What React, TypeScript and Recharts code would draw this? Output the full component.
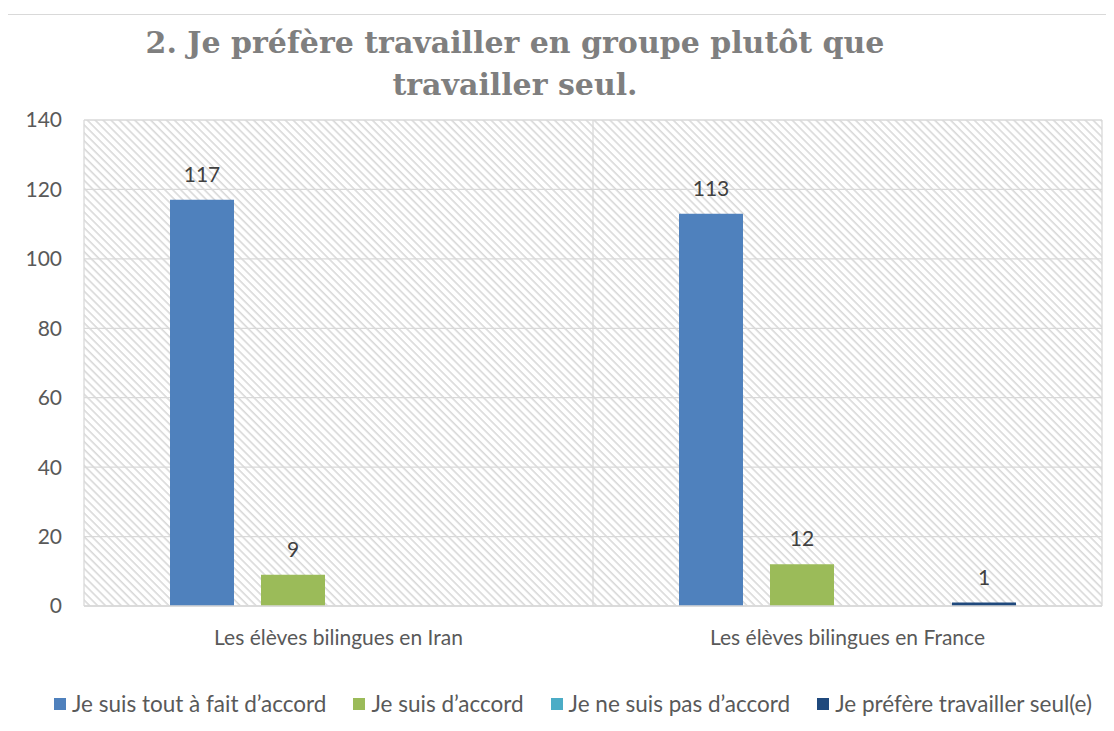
import React from "react";
import {
  BarChart,
  Bar,
  XAxis,
  YAxis,
  CartesianGrid,
  Legend,
  LabelList,
} from "recharts";

const categories = [
  "Les élèves bilingues en Iran",
  "Les élèves bilingues en France",
];
const seriesNames = [
  "Je suis tout à fait d’accord",
  "Je suis d’accord",
  "Je ne suis pas d’accord",
  "Je préfère travailler seul(e)",
];
const toutAFait = [117, 113];
const daccord = [9, 12];
const pasDaccord = [0, 0];
const seul = [0, 1];
const yTicks = [0, 20, 40, 60, 80, 100, 120, 140];
const colors = ["#4F81BD", "#9BBB59", "#4BACC6", "#1F497D"];
const seriesValues = [toutAFait, daccord, pasDaccord, seul];
const keys = ["s0", "s1", "s2", "s3"];

const data = categories.map((c, i) => {
  const row: any = { name: c };
  keys.forEach((k, j) => {
    row[k] = seriesValues[j][i];
  });
  return row;
});

const FONT = "Lato, 'Noto Sans', sans-serif";
const TXT = "#595959";

const renderLegend = () => {
  return (
    <div
      style={{
        display: "flex",
        justifyContent: "center",
        alignItems: "center",
        fontFamily: FONT,
        fontSize: 22.5,
        color: TXT,
        whiteSpace: "nowrap",
        paddingLeft: 44,
      }}
    >
      {seriesNames.map((n, i) => (
        <div
          key={i}
          style={{ display: "flex", alignItems: "center", marginRight: i < seriesNames.length - 1 ? 27 : 0 }}
        >
          <span
            style={{
              display: "inline-block",
              width: 12,
              height: 12,
              background: colors[i],
              marginRight: 6,
            }}
          />
          <span>{n}</span>
        </div>
      ))}
    </div>
  );
};

const labelFmt = (v: any) => (v === 0 ? "" : v);

export default function App() {
  return (
    <div style={{ position: "relative", width: 1114, height: 731, margin: -8 }}>
      <svg width="0" height="0" style={{ position: "absolute" }}>
        <defs>
          <pattern
            id="hatch"
            patternUnits="userSpaceOnUse"
            width="5.6"
            height="5.6"
            patternTransform="rotate(45)"
          >
            <rect width="5.6" height="5.6" fill="#ffffff" />
            <line x1="0" y1="0.8" x2="5.6" y2="0.8" stroke="#d9d9d9" strokeWidth="1.6" />
          </pattern>
        </defs>
      </svg>
      <div
        style={{
          position: "absolute",
          left: 5,
          top: 14,
          width: 1105,
          height: 730,
          border: "1px solid #d9d9d9",
          boxSizing: "border-box",
        }}
      />
      <div
        style={{
          position: "absolute",
          left: 65,
          top: 22,
          width: 900,
          textAlign: "center",
          fontFamily: "'DejaVu Serif', serif",
          fontWeight: "bold",
          fontSize: 30,
          lineHeight: "42px",
          color: "#7F7F7F",
          whiteSpace: "nowrap",
        }}
      >
        2. Je préfère travailler en groupe plutôt que
        <br />
        travailler seul.
      </div>
      <div style={{ position: "absolute", left: 0, top: 0 }}>
        <BarChart
          width={1114}
          height={731}
          data={data}
          margin={{ top: 120, right: 12, bottom: 0, left: 0 }}
          barSize={64}
          barGap={27}
        >
          <CartesianGrid
            stroke="#d9d9d9"
            strokeWidth={1.3}
            fill="url(#hatch)"
            fillOpacity={1}
            verticalCoordinatesGenerator={({ offset }: any) => [
              offset.left,
              offset.left + offset.width / 2,
              offset.left + offset.width,
            ]}
          />
          <XAxis
            dataKey="name"
            axisLine={{ stroke: "#d9d9d9", strokeWidth: 1.3 }}
            tickLine={false}
            tickMargin={18}
            height={98}
            tick={{ fill: TXT, fontSize: 21, fontFamily: FONT }}
          />
          <YAxis
            width={84}
            domain={[0, 140]}
            ticks={yTicks}
            axisLine={false}
            tickLine={false}
            tickMargin={16}
            tick={{ fill: TXT, fontSize: 21, fontFamily: FONT }}
          />
          <Legend
            verticalAlign="bottom"
            content={renderLegend}
            wrapperStyle={{ bottom: 14 }}
          />
          {keys.map((k, j) => (
            <Bar
              key={k}
              dataKey={k}
              name={seriesNames[j]}
              fill={colors[j]}
              isAnimationActive={false}
            >
              <LabelList
                dataKey={k}
                position="top"
                offset={18}
                formatter={labelFmt}
                fill="#404040"
                fontSize={21}
                fontFamily={FONT}
              />
            </Bar>
          ))}
        </BarChart>
      </div>
    </div>
  );
}
